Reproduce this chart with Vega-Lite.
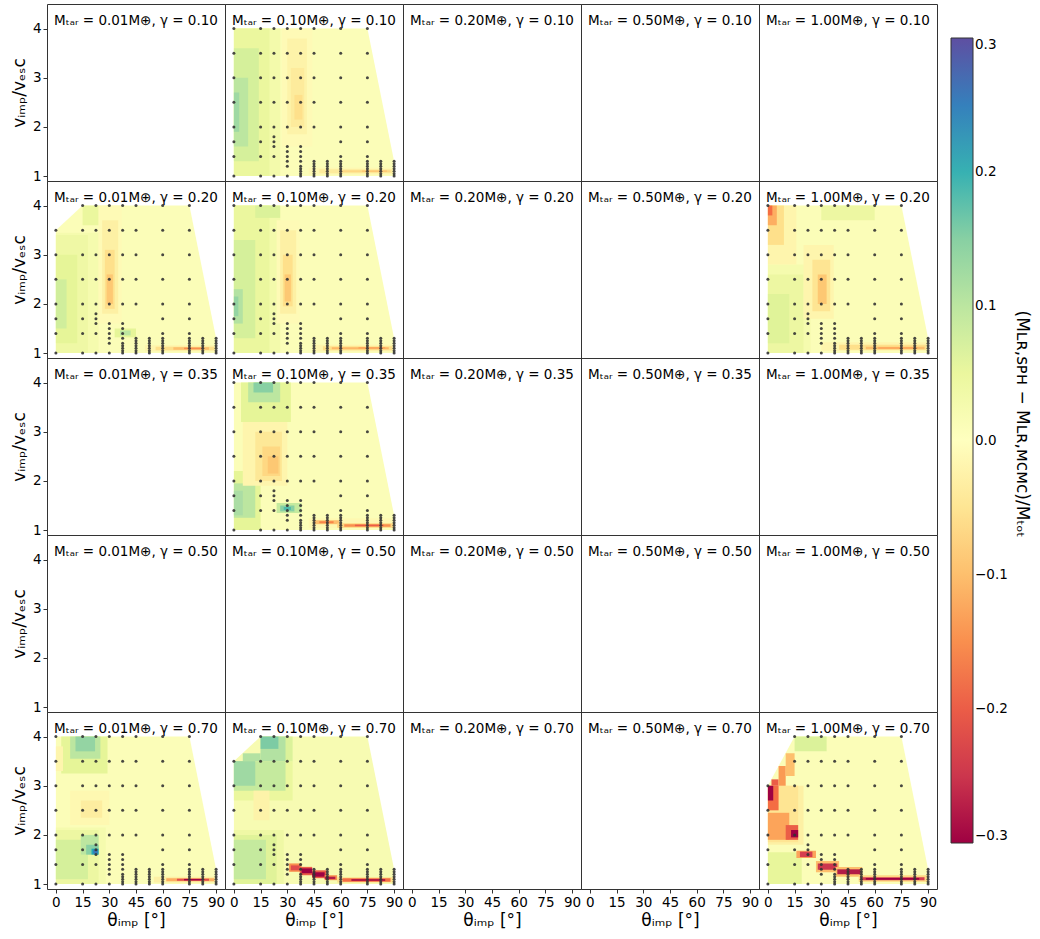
{
  "$schema": "https://vega.github.io/schema/vega-lite/v6.json",
  "background": "white",
  "padding": {"left": 10, "top": 3, "right": 5, "bottom": 5},
  "bounds": "flush",
  "data": {"values": [
    {"p":"0.10|0.01","k":"e","y":[1]},
    {"p":"0.10|0.20","k":"e","y":[1]},
    {"p":"0.10|0.50","k":"e","y":[1]},
    {"p":"0.10|1.00","k":"e","y":[1]},
    {"p":"0.20|0.20","k":"e","y":[1]},
    {"p":"0.20|0.50","k":"e","y":[1]},
    {"p":"0.35|0.01","k":"e","y":[1]},
    {"p":"0.35|0.20","k":"e","y":[1]},
    {"p":"0.35|0.50","k":"e","y":[1]},
    {"p":"0.35|1.00","k":"e","y":[1]},
    {"p":"0.50|0.01","k":"e","y":[1]},
    {"p":"0.50|0.10","k":"e","y":[1]},
    {"p":"0.50|0.20","k":"e","y":[1]},
    {"p":"0.50|0.50","k":"e","y":[1]},
    {"p":"0.50|1.00","k":"e","y":[1]},
    {"p":"0.70|0.20","k":"e","y":[1]},
    {"p":"0.70|0.50","k":"e","y":[1]},

    {"p":"0.10|0.10","k":"h","x":0,"y":[1],"y2":4,"v":0.01},
    {"p":"0.10|0.10","k":"h","x":75,"y":[1],"y2":4,"v":0.01},
    {"p":"0.10|0.10","k":"h","x":90,"y":[1],"y2":1.3,"v":0.01},
    {"p":"0.10|0.10","k":"c","x":0,"x2":26,"y":[1],"y2":4,"v":0.03},
    {"p":"0.10|0.10","k":"c","x":0,"x2":20,"y":[1],"y2":4,"v":0.05},
    {"p":"0.10|0.10","k":"c","x":0,"x2":14,"y":[1.3],"y2":3.6,"v":0.075},
    {"p":"0.10|0.10","k":"c","x":0,"x2":8,"y":[1.6],"y2":3,"v":0.1},
    {"p":"0.10|0.10","k":"c","x":0,"x2":3,"y":[1.9],"y2":2.7,"v":0.13},
    {"p":"0.10|0.10","k":"c","x":27,"x2":44,"y":[1.6],"y2":4,"v":-0.01},
    {"p":"0.10|0.10","k":"c","x":30,"x2":41,"y":[1.85],"y2":3.8,"v":-0.025},
    {"p":"0.10|0.10","k":"c","x":32,"x2":39.5,"y":[2],"y2":3.2,"v":-0.04},
    {"p":"0.10|0.10","k":"c","x":34,"x2":38.5,"y":[2.15],"y2":2.65,"v":-0.06},
    {"p":"0.10|0.10","k":"c","x":42,"x2":90,"y":[1.03],"y2":1.17,"v":-0.015},
    {"p":"0.10|0.10","k":"c","x":48,"x2":89,"y":[1.06],"y2":1.14,"v":-0.04},
    {"p":"0.10|0.10","k":"c","x":60,"x2":88,"y":[1.08],"y2":1.12,"v":-0.07},
    {"p":"0.10|0.10","k":"c","x":72,"x2":86,"y":[1.085],"y2":1.115,"v":-0.09},

    {"p":"0.20|0.01","k":"h","x":0,"y":[1],"y2":3.5,"v":0.01},
    {"p":"0.20|0.01","k":"h","x":15,"y":[1],"y2":4,"v":0.01},
    {"p":"0.20|0.01","k":"h","x":75,"y":[1],"y2":4,"v":0.01},
    {"p":"0.20|0.01","k":"h","x":90,"y":[1],"y2":1.3,"v":0.01},
    {"p":"0.20|0.01","k":"c","x":0,"x2":24,"y":[1],"y2":3.45,"v":0.025},
    {"p":"0.20|0.01","k":"c","x":0,"x2":18,"y":[1],"y2":3.4,"v":0.04},
    {"p":"0.20|0.01","k":"c","x":0,"x2":12,"y":[1.2],"y2":3,"v":0.06},
    {"p":"0.20|0.01","k":"c","x":0,"x2":6,"y":[1.5],"y2":2.5,"v":0.08},
    {"p":"0.20|0.01","k":"c","x":15,"x2":24,"y":[3.6],"y2":4,"v":0.05},
    {"p":"0.20|0.01","k":"c","x":24,"x2":37,"y":[1.6],"y2":4,"v":-0.01},
    {"p":"0.20|0.01","k":"c","x":26,"x2":35,"y":[1.8],"y2":3.7,"v":-0.03},
    {"p":"0.20|0.01","k":"c","x":27.5,"x2":33,"y":[1.9],"y2":3.1,"v":-0.06},
    {"p":"0.20|0.01","k":"c","x":28.5,"x2":32,"y":[2],"y2":2.6,"v":-0.09},
    {"p":"0.20|0.01","k":"c","x":33,"x2":45,"y":[1.32],"y2":1.5,"v":0.06},
    {"p":"0.20|0.01","k":"c","x":36,"x2":42,"y":[1.36],"y2":1.46,"v":0.1},
    {"p":"0.20|0.01","k":"c","x":50,"x2":90,"y":[1.03],"y2":1.16,"v":-0.02},
    {"p":"0.20|0.01","k":"c","x":56,"x2":89,"y":[1.06],"y2":1.13,"v":-0.06},
    {"p":"0.20|0.01","k":"c","x":66,"x2":86,"y":[1.07],"y2":1.12,"v":-0.1},
    {"p":"0.20|0.01","k":"c","x":72,"x2":82,"y":[1.08],"y2":1.11,"v":-0.15},

    {"p":"0.20|0.10","k":"h","x":0,"y":[1],"y2":4,"v":0.01},
    {"p":"0.20|0.10","k":"h","x":75,"y":[1],"y2":4,"v":0.01},
    {"p":"0.20|0.10","k":"h","x":90,"y":[1],"y2":1.3,"v":0.01},
    {"p":"0.20|0.10","k":"c","x":0,"x2":26,"y":[1],"y2":4,"v":0.03},
    {"p":"0.20|0.10","k":"c","x":0,"x2":20,"y":[1],"y2":4,"v":0.05},
    {"p":"0.20|0.10","k":"c","x":0,"x2":12,"y":[1.3],"y2":3.3,"v":0.075},
    {"p":"0.20|0.10","k":"c","x":0,"x2":5,"y":[1.6],"y2":2.3,"v":0.11},
    {"p":"0.20|0.10","k":"c","x":0,"x2":2.5,"y":[1.75],"y2":2.15,"v":0.14},
    {"p":"0.20|0.10","k":"c","x":12,"x2":26,"y":[3.75],"y2":4,"v":0.07},
    {"p":"0.20|0.10","k":"c","x":24,"x2":37,"y":[1.6],"y2":3.7,"v":-0.01},
    {"p":"0.20|0.10","k":"c","x":26,"x2":35,"y":[1.8],"y2":3.5,"v":-0.03},
    {"p":"0.20|0.10","k":"c","x":27.5,"x2":33,"y":[1.95],"y2":3,"v":-0.06},
    {"p":"0.20|0.10","k":"c","x":28.5,"x2":32,"y":[2.05],"y2":2.6,"v":-0.09},
    {"p":"0.20|0.10","k":"c","x":44,"x2":90,"y":[1.03],"y2":1.17,"v":-0.02},
    {"p":"0.20|0.10","k":"c","x":50,"x2":89,"y":[1.06],"y2":1.14,"v":-0.06},
    {"p":"0.20|0.10","k":"c","x":55,"x2":87,"y":[1.08],"y2":1.12,"v":-0.11},
    {"p":"0.20|0.10","k":"c","x":70,"x2":85,"y":[1.09],"y2":1.12,"v":-0.13},

    {"p":"0.20|1.00","k":"h","x":0,"y":[1],"y2":4,"v":0.01},
    {"p":"0.20|1.00","k":"h","x":75,"y":[1],"y2":4,"v":0.01},
    {"p":"0.20|1.00","k":"h","x":90,"y":[1],"y2":1.3,"v":0.01},
    {"p":"0.20|1.00","k":"c","x":0,"x2":24,"y":[1],"y2":2.8,"v":0.025},
    {"p":"0.20|1.00","k":"c","x":0,"x2":20,"y":[1],"y2":2.6,"v":0.045},
    {"p":"0.20|1.00","k":"c","x":0,"x2":12,"y":[1.2],"y2":2.2,"v":0.065},
    {"p":"0.20|1.00","k":"c","x":30,"x2":60,"y":[3.7],"y2":4,"v":0.045},
    {"p":"0.20|1.00","k":"c","x":0,"x2":16,"y":[2.8],"y2":4,"v":-0.02},
    {"p":"0.20|1.00","k":"c","x":0,"x2":9,"y":[3.2],"y2":4,"v":-0.06},
    {"p":"0.20|1.00","k":"c","x":0,"x2":5,"y":[3.6],"y2":4,"v":-0.12},
    {"p":"0.20|1.00","k":"c","x":0,"x2":2.5,"y":[3.8],"y2":4,"v":-0.18},
    {"p":"0.20|1.00","k":"c","x":20,"x2":37,"y":[1.7],"y2":3.2,"v":-0.02},
    {"p":"0.20|1.00","k":"c","x":25,"x2":35,"y":[1.85],"y2":2.9,"v":-0.05},
    {"p":"0.20|1.00","k":"c","x":28,"x2":33,"y":[2],"y2":2.6,"v":-0.09},
    {"p":"0.20|1.00","k":"c","x":30,"x2":90,"y":[1.05],"y2":1.22,"v":-0.02},
    {"p":"0.20|1.00","k":"c","x":40,"x2":89,"y":[1.07],"y2":1.17,"v":-0.06},
    {"p":"0.20|1.00","k":"c","x":55,"x2":88,"y":[1.08],"y2":1.13,"v":-0.1},
    {"p":"0.20|1.00","k":"c","x":62,"x2":84,"y":[1.09],"y2":1.12,"v":-0.13},

    {"p":"0.35|0.10","k":"h","x":0,"y":[1],"y2":4,"v":0.01},
    {"p":"0.35|0.10","k":"h","x":75,"y":[1],"y2":4,"v":0.01},
    {"p":"0.35|0.10","k":"h","x":90,"y":[1],"y2":1.3,"v":0.01},
    {"p":"0.35|0.10","k":"c","x":4,"x2":32,"y":[3.2],"y2":4,"v":0.06},
    {"p":"0.35|0.10","k":"c","x":8,"x2":26,"y":[3.6],"y2":4,"v":0.1},
    {"p":"0.35|0.10","k":"c","x":11,"x2":22,"y":[3.8],"y2":4,"v":0.15},
    {"p":"0.35|0.10","k":"c","x":0,"x2":15,"y":[1],"y2":2.2,"v":0.06},
    {"p":"0.35|0.10","k":"c","x":0,"x2":12,"y":[1.25],"y2":1.95,"v":0.1},
    {"p":"0.35|0.10","k":"c","x":0,"x2":5,"y":[1.3],"y2":1.8,"v":0.12},
    {"p":"0.35|0.10","k":"c","x":5,"x2":30,"y":[1.9],"y2":3.2,"v":-0.02},
    {"p":"0.35|0.10","k":"c","x":12,"x2":27,"y":[2],"y2":3,"v":-0.045},
    {"p":"0.35|0.10","k":"c","x":16,"x2":26,"y":[2.1],"y2":2.7,"v":-0.07},
    {"p":"0.35|0.10","k":"c","x":19,"x2":25,"y":[2.15],"y2":2.5,"v":-0.09},
    {"p":"0.35|0.10","k":"c","x":24,"x2":38,"y":[1.35],"y2":1.55,"v":0.09},
    {"p":"0.35|0.10","k":"c","x":26,"x2":34,"y":[1.38],"y2":1.5,"v":0.15},
    {"p":"0.35|0.10","k":"c","x":28,"x2":32,"y":[1.41],"y2":1.47,"v":0.19},
    {"p":"0.35|0.10","k":"c","x":42,"x2":90,"y":[1.04],"y2":1.24,"v":-0.015},
    {"p":"0.35|0.10","k":"c","x":45,"x2":59,"y":[1.12],"y2":1.2,"v":-0.1},
    {"p":"0.35|0.10","k":"c","x":48,"x2":56,"y":[1.14],"y2":1.18,"v":-0.16},
    {"p":"0.35|0.10","k":"c","x":58,"x2":90,"y":[1.05],"y2":1.14,"v":-0.07},
    {"p":"0.35|0.10","k":"c","x":62,"x2":88,"y":[1.07],"y2":1.12,"v":-0.15},
    {"p":"0.35|0.10","k":"c","x":68,"x2":84,"y":[1.08],"y2":1.11,"v":-0.2},

    {"p":"0.70|0.01","k":"h","x":0,"y":[1],"y2":4,"v":0.01},
    {"p":"0.70|0.01","k":"h","x":75,"y":[1],"y2":4,"v":0.01},
    {"p":"0.70|0.01","k":"h","x":90,"y":[1],"y2":1.3,"v":0.01},
    {"p":"0.70|0.01","k":"c","x":3,"x2":29,"y":[3.25],"y2":4,"v":0.06},
    {"p":"0.70|0.01","k":"c","x":8,"x2":25,"y":[3.55],"y2":4,"v":0.1},
    {"p":"0.70|0.01","k":"c","x":11,"x2":22,"y":[3.7],"y2":4,"v":0.14},
    {"p":"0.70|0.01","k":"c","x":0,"x2":4,"y":[3.3],"y2":3.8,"v":-0.02},
    {"p":"0.70|0.01","k":"c","x":8,"x2":30,"y":[2.2],"y2":2.9,"v":-0.015},
    {"p":"0.70|0.01","k":"c","x":14,"x2":26,"y":[2.35],"y2":2.7,"v":-0.035},
    {"p":"0.70|0.01","k":"c","x":0,"x2":28,"y":[1],"y2":2.15,"v":0.025},
    {"p":"0.70|0.01","k":"c","x":0,"x2":24,"y":[1],"y2":2.1,"v":0.045},
    {"p":"0.70|0.01","k":"c","x":0,"x2":18,"y":[1.1],"y2":1.9,"v":0.075},
    {"p":"0.70|0.01","k":"c","x":14,"x2":24,"y":[1.6],"y2":2,"v":0.1},
    {"p":"0.70|0.01","k":"c","x":17,"x2":24,"y":[1.6],"y2":1.8,"v":0.15},
    {"p":"0.70|0.01","k":"c","x":20,"x2":24,"y":[1.6],"y2":1.72,"v":0.21},
    {"p":"0.70|0.01","k":"c","x":21,"x2":23.5,"y":[1.62],"y2":1.7,"v":0.26},
    {"p":"0.70|0.01","k":"c","x":55,"x2":90,"y":[1.03],"y2":1.15,"v":-0.03},
    {"p":"0.70|0.01","k":"c","x":62,"x2":89,"y":[1.06],"y2":1.12,"v":-0.12},
    {"p":"0.70|0.01","k":"c","x":68,"x2":86,"y":[1.07],"y2":1.11,"v":-0.22},
    {"p":"0.70|0.01","k":"c","x":72,"x2":82,"y":[1.075],"y2":1.105,"v":-0.3},

    {"p":"0.70|0.10","k":"h","x":0,"y":[1],"y2":3.5,"v":0.02},
    {"p":"0.70|0.10","k":"h","x":15,"y":[1],"y2":4,"v":0.02},
    {"p":"0.70|0.10","k":"h","x":75,"y":[1],"y2":4,"v":0.02},
    {"p":"0.70|0.10","k":"h","x":90,"y":[1],"y2":1.3,"v":0.02},
    {"p":"0.70|0.10","k":"c","x":0,"x2":33,"y":[2.7],"y2":3.5,"v":0.05},
    {"p":"0.70|0.10","k":"c","x":15,"x2":33,"y":[3.5],"y2":4,"v":0.07},
    {"p":"0.70|0.10","k":"c","x":0,"x2":29,"y":[2.9],"y2":3.5,"v":0.09},
    {"p":"0.70|0.10","k":"c","x":5,"x2":15,"y":[3.5],"y2":3.66,"v":0.11},
    {"p":"0.70|0.10","k":"c","x":15,"x2":29,"y":[3.5],"y2":4,"v":0.11},
    {"p":"0.70|0.10","k":"c","x":15,"x2":25,"y":[3.75],"y2":4,"v":0.16},
    {"p":"0.70|0.10","k":"c","x":0,"x2":12,"y":[3],"y2":3.5,"v":0.13},
    {"p":"0.70|0.10","k":"c","x":11,"x2":20,"y":[2.3],"y2":2.9,"v":-0.025},
    {"p":"0.70|0.10","k":"c","x":0,"x2":28,"y":[1],"y2":2.1,"v":0.04},
    {"p":"0.70|0.10","k":"c","x":0,"x2":24,"y":[1],"y2":2,"v":0.065},
    {"p":"0.70|0.10","k":"c","x":0,"x2":18,"y":[1.1],"y2":1.9,"v":0.09},
    {"p":"0.70|0.10","k":"c","x":31,"x2":38,"y":[1.25],"y2":1.42,"v":-0.15},
    {"p":"0.70|0.10","k":"c","x":32,"x2":37,"y":[1.28],"y2":1.38,"v":-0.22},
    {"p":"0.70|0.10","k":"c","x":37,"x2":44,"y":[1.18],"y2":1.35,"v":-0.2},
    {"p":"0.70|0.10","k":"c","x":38,"x2":44,"y":[1.22],"y2":1.32,"v":-0.3},
    {"p":"0.70|0.10","k":"c","x":44,"x2":52,"y":[1.12],"y2":1.28,"v":-0.2},
    {"p":"0.70|0.10","k":"c","x":44,"x2":51,"y":[1.15],"y2":1.24,"v":-0.3},
    {"p":"0.70|0.10","k":"c","x":51,"x2":58,"y":[1.08],"y2":1.18,"v":-0.15},
    {"p":"0.70|0.10","k":"c","x":51,"x2":57,"y":[1.1],"y2":1.15,"v":-0.28},
    {"p":"0.70|0.10","k":"c","x":58,"x2":90,"y":[1.03],"y2":1.14,"v":-0.06},
    {"p":"0.70|0.10","k":"c","x":61,"x2":88,"y":[1.05],"y2":1.12,"v":-0.18},
    {"p":"0.70|0.10","k":"c","x":66,"x2":85,"y":[1.07],"y2":1.1,"v":-0.3},

    {"p":"0.70|1.00","k":"h","x":0,"y":[1],"y2":3,"v":0.01},
    {"p":"0.70|1.00","k":"h","x":15,"y":[1],"y2":4,"v":0.01},
    {"p":"0.70|1.00","k":"h","x":75,"y":[1],"y2":4,"v":0.01},
    {"p":"0.70|1.00","k":"h","x":90,"y":[1],"y2":1.3,"v":0.01},
    {"p":"0.70|1.00","k":"c","x":0,"x2":19,"y":[1],"y2":1.65,"v":0.055},
    {"p":"0.70|1.00","k":"c","x":15,"x2":33,"y":[3.7],"y2":4,"v":0.07},
    {"p":"0.70|1.00","k":"c","x":0,"x2":20,"y":[1.8],"y2":3,"v":-0.03},
    {"p":"0.70|1.00","k":"c","x":0,"x2":17,"y":[1.85],"y2":3,"v":-0.05},
    {"p":"0.70|1.00","k":"c","x":0,"x2":6,"y":[2.5],"y2":3,"v":-0.18},
    {"p":"0.70|1.00","k":"c","x":0,"x2":3,"y":[2.7],"y2":3,"v":-0.3},
    {"p":"0.70|1.00","k":"c","x":2,"x2":6,"y":[3],"y2":3.13,"v":-0.2},
    {"p":"0.70|1.00","k":"c","x":6,"x2":10,"y":[3],"y2":3.4,"v":-0.14},
    {"p":"0.70|1.00","k":"c","x":10,"x2":15,"y":[3.2],"y2":3.66,"v":-0.1},
    {"p":"0.70|1.00","k":"c","x":0,"x2":12,"y":[1.9],"y2":2.45,"v":-0.13},
    {"p":"0.70|1.00","k":"c","x":10,"x2":17,"y":[1.9],"y2":2.2,"v":-0.2},
    {"p":"0.70|1.00","k":"c","x":13,"x2":17,"y":[1.95],"y2":2.1,"v":-0.3},
    {"p":"0.70|1.00","k":"c","x":16,"x2":27,"y":[1.53],"y2":1.68,"v":-0.13},
    {"p":"0.70|1.00","k":"c","x":18,"x2":25,"y":[1.55],"y2":1.66,"v":-0.24},
    {"p":"0.70|1.00","k":"c","x":27,"x2":40,"y":[1.24],"y2":1.47,"v":-0.1},
    {"p":"0.70|1.00","k":"c","x":28,"x2":39,"y":[1.29],"y2":1.42,"v":-0.25},
    {"p":"0.70|1.00","k":"c","x":38,"x2":53,"y":[1.15],"y2":1.35,"v":-0.1},
    {"p":"0.70|1.00","k":"c","x":39,"x2":52,"y":[1.2],"y2":1.3,"v":-0.28},
    {"p":"0.70|1.00","k":"c","x":51,"x2":90,"y":[1.05],"y2":1.18,"v":-0.07},
    {"p":"0.70|1.00","k":"c","x":52,"x2":88,"y":[1.08],"y2":1.14,"v":-0.24},
    {"p":"0.70|1.00","k":"c","x":55,"x2":85,"y":[1.09],"y2":1.125,"v":-0.3},

    {"p":"0.10|0.10","k":"d","x":0,"y":[1,1.4,1.7,2,2.5,3,3.5,4]},
    {"p":"0.10|0.10","k":"d","x":15,"y":[1,1.4,1.7,2,2.5,3,3.5,4]},
    {"p":"0.10|0.10","k":"d","x":22.5,"y":[1,1.4,1.6,1.7,1.8,2,2.5,3,3.5,4]},
    {"p":"0.10|0.10","k":"d","x":30,"y":[1,1.2,1.3,1.4,1.5,1.6,2,2.5,3,3.5,4]},
    {"p":"0.10|0.10","k":"d","x":37.5,"y":[1,1.05,1.1,1.15,1.2,1.3,1.4,1.5,1.6,2,2.5,3,3.5,4]},
    {"p":"0.10|0.10","k":"d","x":45,"y":[1,1.05,1.1,1.15,1.2,1.25,1.3,2,2.5,3,3.5,4]},
    {"p":"0.10|0.10","k":"d","x":52.5,"y":[1,1.05,1.1,1.15,1.2,1.25,1.3]},
    {"p":"0.10|0.10","k":"d","x":60,"y":[1,1.05,1.1,1.15,1.2,1.25,1.3,1.4,1.7,2,2.5,3,3.5,4]},
    {"p":"0.10|0.10","k":"d","x":75,"y":[1,1.05,1.1,1.15,1.2,1.25,1.3,1.4,1.7,2,2.5,3,3.5,4]},
    {"p":"0.10|0.10","k":"d","x":82.5,"y":[1,1.05,1.1,1.15,1.2,1.25,1.3]},
    {"p":"0.10|0.10","k":"d","x":90,"y":[1,1.05,1.1,1.15,1.2,1.25,1.3]},

    {"p":"0.20|0.01","k":"d","x":0,"y":[1,1.4,1.7,2,2.5,3,3.5]},
    {"p":"0.20|0.01","k":"d","x":15,"y":[1,1.4,1.7,2,2.5,3,3.5,4]},
    {"p":"0.20|0.01","k":"d","x":22.5,"y":[1,1.4,1.6,1.7,1.8,2,2.5,3,3.5,4]},
    {"p":"0.20|0.01","k":"d","x":30,"y":[1,1.2,1.3,1.4,1.5,1.6,2,2.5,3,3.5,4]},
    {"p":"0.20|0.01","k":"d","x":37.5,"y":[1,1.05,1.1,1.15,1.2,1.3,1.4,1.5,1.6,2,2.5,3,3.5,4]},
    {"p":"0.20|0.01","k":"d","x":45,"y":[1,1.05,1.1,1.15,1.2,1.25,1.3,2,2.5,3,3.5,4]},
    {"p":"0.20|0.01","k":"d","x":52.5,"y":[1,1.05,1.1,1.15,1.2,1.25,1.3]},
    {"p":"0.20|0.01","k":"d","x":60,"y":[1,1.05,1.1,1.15,1.2,1.25,1.3,1.4,1.7,2,2.5,3,3.5,4]},
    {"p":"0.20|0.01","k":"d","x":75,"y":[1,1.05,1.1,1.15,1.2,1.25,1.3,1.4,1.7,2,2.5,3,3.5,4]},
    {"p":"0.20|0.01","k":"d","x":82.5,"y":[1,1.05,1.1,1.15,1.2,1.25,1.3]},
    {"p":"0.20|0.01","k":"d","x":90,"y":[1,1.05,1.1,1.15,1.2,1.25,1.3]},

    {"p":"0.20|0.10","k":"d","x":0,"y":[1,1.4,1.7,2,2.5,3,3.5,4]},
    {"p":"0.20|0.10","k":"d","x":15,"y":[1,1.4,1.7,2,2.5,3,3.5,4]},
    {"p":"0.20|0.10","k":"d","x":22.5,"y":[1,1.4,1.6,1.7,1.8,2,2.5,3,3.5,4]},
    {"p":"0.20|0.10","k":"d","x":30,"y":[1,1.2,1.3,1.4,1.5,1.6,2,2.5,3,3.5,4]},
    {"p":"0.20|0.10","k":"d","x":37.5,"y":[1,1.05,1.1,1.15,1.2,1.3,1.4,1.5,1.6,2,2.5,3,3.5,4]},
    {"p":"0.20|0.10","k":"d","x":45,"y":[1,1.05,1.1,1.15,1.2,1.25,1.3,2,2.5,3,3.5,4]},
    {"p":"0.20|0.10","k":"d","x":52.5,"y":[1,1.05,1.1,1.15,1.2,1.25,1.3]},
    {"p":"0.20|0.10","k":"d","x":60,"y":[1,1.05,1.1,1.15,1.2,1.25,1.3,1.4,1.7,2,2.5,3,3.5,4]},
    {"p":"0.20|0.10","k":"d","x":75,"y":[1,1.05,1.1,1.15,1.2,1.25,1.3,1.4,1.7,2,2.5,3,3.5,4]},
    {"p":"0.20|0.10","k":"d","x":82.5,"y":[1,1.05,1.1,1.15,1.2,1.25,1.3]},
    {"p":"0.20|0.10","k":"d","x":90,"y":[1,1.05,1.1,1.15,1.2,1.25,1.3]},

    {"p":"0.20|1.00","k":"d","x":0,"y":[1,1.4,1.7,2,2.5,3,3.5,4]},
    {"p":"0.20|1.00","k":"d","x":15,"y":[1,1.4,1.7,2,2.5,3,3.5,4]},
    {"p":"0.20|1.00","k":"d","x":22.5,"y":[1,1.4,1.6,1.7,1.8,2,2.5,3,3.5,4]},
    {"p":"0.20|1.00","k":"d","x":30,"y":[1,1.2,1.3,1.4,1.5,1.6,2,2.5,3,3.5,4]},
    {"p":"0.20|1.00","k":"d","x":37.5,"y":[1,1.05,1.1,1.15,1.2,1.3,1.4,1.5,1.6,2,2.5,3,3.5,4]},
    {"p":"0.20|1.00","k":"d","x":45,"y":[1,1.05,1.1,1.15,1.2,1.25,1.3,2,2.5,3,3.5,4]},
    {"p":"0.20|1.00","k":"d","x":52.5,"y":[1,1.05,1.1,1.15,1.2,1.25,1.3]},
    {"p":"0.20|1.00","k":"d","x":60,"y":[1,1.05,1.1,1.15,1.2,1.25,1.3,1.4,1.7,2,2.5,3,3.5,4]},
    {"p":"0.20|1.00","k":"d","x":75,"y":[1,1.05,1.1,1.15,1.2,1.25,1.3,1.4,1.7,2,2.5,3,3.5,4]},
    {"p":"0.20|1.00","k":"d","x":82.5,"y":[1,1.05,1.1,1.15,1.2,1.25,1.3]},
    {"p":"0.20|1.00","k":"d","x":90,"y":[1,1.05,1.1,1.15,1.2,1.25,1.3]},

    {"p":"0.35|0.10","k":"d","x":0,"y":[1,1.4,1.7,2,2.5,3,3.5,4]},
    {"p":"0.35|0.10","k":"d","x":15,"y":[1,1.4,1.7,2,2.5,3,3.5,4]},
    {"p":"0.35|0.10","k":"d","x":22.5,"y":[1,1.4,1.6,1.7,1.8,2,2.5,3,3.5,4]},
    {"p":"0.35|0.10","k":"d","x":30,"y":[1,1.2,1.3,1.4,1.5,1.6,2,2.5,3,3.5,4]},
    {"p":"0.35|0.10","k":"d","x":37.5,"y":[1,1.05,1.1,1.15,1.2,1.3,1.4,1.5,1.6,2,2.5,3,3.5,4]},
    {"p":"0.35|0.10","k":"d","x":45,"y":[1,1.05,1.1,1.15,1.2,1.25,1.3,2,2.5,3,3.5,4]},
    {"p":"0.35|0.10","k":"d","x":52.5,"y":[1,1.05,1.1,1.15,1.2,1.25,1.3]},
    {"p":"0.35|0.10","k":"d","x":60,"y":[1,1.05,1.1,1.15,1.2,1.25,1.3,1.4,1.7,2,2.5,3,3.5,4]},
    {"p":"0.35|0.10","k":"d","x":75,"y":[1,1.05,1.1,1.15,1.2,1.25,1.3,1.4,1.7,2,2.5,3,3.5,4]},
    {"p":"0.35|0.10","k":"d","x":82.5,"y":[1,1.05,1.1,1.15,1.2,1.25,1.3]},
    {"p":"0.35|0.10","k":"d","x":90,"y":[1,1.05,1.1,1.15,1.2,1.25,1.3]},

    {"p":"0.70|0.01","k":"d","x":0,"y":[1,1.4,1.7,2,2.5,3,3.5,4]},
    {"p":"0.70|0.01","k":"d","x":15,"y":[1,1.4,1.7,2,2.5,3,3.5,4]},
    {"p":"0.70|0.01","k":"d","x":22.5,"y":[1,1.4,1.6,1.7,1.8,2,2.5,3,3.5,4]},
    {"p":"0.70|0.01","k":"d","x":30,"y":[1,1.2,1.3,1.4,1.5,1.6,2,2.5,3,3.5,4]},
    {"p":"0.70|0.01","k":"d","x":37.5,"y":[1,1.05,1.1,1.15,1.2,1.3,1.4,1.5,1.6,2,2.5,3,3.5,4]},
    {"p":"0.70|0.01","k":"d","x":45,"y":[1,1.05,1.1,1.15,1.2,1.25,1.3,2,2.5,3,3.5,4]},
    {"p":"0.70|0.01","k":"d","x":52.5,"y":[1,1.05,1.1,1.15,1.2,1.25,1.3]},
    {"p":"0.70|0.01","k":"d","x":60,"y":[1,1.05,1.1,1.15,1.2,1.25,1.3,1.4,1.7,2,2.5,3,3.5,4]},
    {"p":"0.70|0.01","k":"d","x":75,"y":[1,1.05,1.1,1.15,1.2,1.25,1.3,1.4,1.7,2,2.5,3,3.5,4]},
    {"p":"0.70|0.01","k":"d","x":82.5,"y":[1,1.05,1.1,1.15,1.2,1.25,1.3]},
    {"p":"0.70|0.01","k":"d","x":90,"y":[1,1.05,1.1,1.15,1.2,1.25,1.3]},

    {"p":"0.70|0.10","k":"d","x":0,"y":[1,1.4,1.7,2,2.5,3,3.5]},
    {"p":"0.70|0.10","k":"d","x":15,"y":[1,1.4,1.7,2,2.5,3,3.5,4]},
    {"p":"0.70|0.10","k":"d","x":22.5,"y":[1,1.4,1.6,1.7,1.8,2,2.5,3,3.5,4]},
    {"p":"0.70|0.10","k":"d","x":30,"y":[1,1.2,1.3,1.4,1.5,1.6,2,2.5,3,3.5,4]},
    {"p":"0.70|0.10","k":"d","x":37.5,"y":[1,1.05,1.1,1.15,1.2,1.3,1.4,1.5,1.6,2,2.5,3,3.5,4]},
    {"p":"0.70|0.10","k":"d","x":45,"y":[1,1.05,1.1,1.15,1.2,1.25,1.3,2,2.5,3,3.5,4]},
    {"p":"0.70|0.10","k":"d","x":52.5,"y":[1,1.05,1.1,1.15,1.2,1.25,1.3]},
    {"p":"0.70|0.10","k":"d","x":60,"y":[1,1.05,1.1,1.15,1.2,1.25,1.3,1.4,1.7,2,2.5,3,3.5,4]},
    {"p":"0.70|0.10","k":"d","x":75,"y":[1,1.05,1.1,1.15,1.2,1.25,1.3,1.4,1.7,2,2.5,3,3.5,4]},
    {"p":"0.70|0.10","k":"d","x":82.5,"y":[1,1.05,1.1,1.15,1.2,1.25,1.3]},
    {"p":"0.70|0.10","k":"d","x":90,"y":[1,1.05,1.1,1.15,1.2,1.25,1.3]},

    {"p":"0.70|1.00","k":"d","x":0,"y":[1,1.4,1.7,2,2.5,3]},
    {"p":"0.70|1.00","k":"d","x":15,"y":[1,1.4,1.7,2,2.5,3,3.5,4]},
    {"p":"0.70|1.00","k":"d","x":22.5,"y":[1,1.4,1.6,1.7,1.8,2,2.5,3,3.5,4]},
    {"p":"0.70|1.00","k":"d","x":30,"y":[1,1.2,1.3,1.4,1.5,1.6,2,2.5,3,3.5,4]},
    {"p":"0.70|1.00","k":"d","x":37.5,"y":[1,1.05,1.1,1.15,1.2,1.3,1.4,1.5,1.6,2,2.5,3,3.5,4]},
    {"p":"0.70|1.00","k":"d","x":45,"y":[1,1.05,1.1,1.15,1.2,1.25,1.3,2,2.5,3,3.5,4]},
    {"p":"0.70|1.00","k":"d","x":52.5,"y":[1,1.05,1.1,1.15,1.2,1.25,1.3]},
    {"p":"0.70|1.00","k":"d","x":60,"y":[1,1.05,1.1,1.15,1.2,1.25,1.3,1.4,1.7,2,2.5,3,3.5,4]},
    {"p":"0.70|1.00","k":"d","x":75,"y":[1,1.05,1.1,1.15,1.2,1.25,1.3,1.4,1.7,2,2.5,3,3.5,4]},
    {"p":"0.70|1.00","k":"d","x":82.5,"y":[1,1.05,1.1,1.15,1.2,1.25,1.3]},
    {"p":"0.70|1.00","k":"d","x":90,"y":[1,1.05,1.1,1.15,1.2,1.25,1.3]}
  ]},
  "transform": [{"flatten": ["y"]}],
  "facet": {
    "field": "p",
    "type": "nominal",
    "title": null,
    "header": {
      "labelExpr": "'Mₜₐᵣ = ' + split(datum.value, '|')[1] + 'M⊕, γ = ' + split(datum.value, '|')[0]",
      "labelFont": "DejaVu Sans",
      "labelFontSize": 13.5,
      "labelColor": "#000",
      "labelPadding": -23
    }
  },
  "columns": 5,
  "spacing": 0,
  "spec": {
    "width": 178,
    "height": 177,
    "layer": [
      {
        "transform": [{"filter": "datum.k == 'h'"}],
        "mark": {"type": "area"},
        "encoding": {
          "x": {"field": "x", "type": "quantitative", "scale": {"domain": [-5, 95], "nice": false, "zero": false},
                "axis": {"values": [0, 15, 30, 45, 60, 75, 90], "tickCount": 7, "title": "θᵢₘₚ [°]", "labelOverlap": false, "labelFlush": false, "labelBound": false}},
          "y": {"field": "y", "type": "quantitative", "scale": {"domain": [0.9, 4.5], "nice": false, "zero": false},
                "axis": {"values": [1, 2, 3, 4], "tickCount": 4, "title": "vᵢₘₚ/vₑₛc", "labelOverlap": false}},
          "y2": {"field": "y2"},
          "color": {"field": "v", "type": "quantitative",
            "scale": {"domain": [-0.3, -0.24, -0.18, -0.12, -0.06, 0, 0.06, 0.12, 0.18, 0.24, 0.3],
                      "range": ["#9e0142", "#d53e4f", "#f46d43", "#fdae61", "#fee08b", "#ffffbf", "#e6f598", "#abdda4", "#66c2a5", "#3288bd", "#5e4fa2"]},
            "legend": {"title": "(Mʟʀ,sᴘʜ − Mʟʀ,ᴍᴄᴍᴄ)/Mₜₒₜ", "values": [-0.3, -0.2, -0.1, 0, 0.1, 0.2, 0.3], "format": ".1f",
                       "labelExpr": "replace(datum.label, '-', '−')", "titleAngle": -90, "titleLimit": 1000}}
        }
      },
      {
        "transform": [{"filter": "datum.k == 'c'"}],
        "mark": {"type": "rect"},
        "encoding": {
          "x": {"field": "x", "type": "quantitative"},
          "x2": {"field": "x2"},
          "y": {"field": "y", "type": "quantitative"},
          "y2": {"field": "y2"},
          "color": {"field": "v", "type": "quantitative"}
        }
      },
      {
        "transform": [{"filter": "datum.k == 'd'"}],
        "mark": {"type": "point", "filled": true, "size": 9, "color": "#333", "opacity": 0.9},
        "encoding": {
          "x": {"field": "x", "type": "quantitative"},
          "y": {"field": "y", "type": "quantitative"}
        }
      }
    ]
  },
  "config": {
    "font": "DejaVu Sans",
    "view": {"stroke": "#333", "strokeWidth": 1},
    "axis": {"grid": false, "domain": false, "tickColor": "#333", "tickSize": 4, "labelFontSize": 13.5, "labelColor": "#000",
             "labelOverlap": false, "labelFlush": false,
             "labelFont": "DejaVu Sans", "titleFont": "DejaVu Sans", "titleFontSize": 17, "titleFontWeight": "normal", "titleColor": "#000", "labelPadding": 2},
    "legend": {"orient": "right", "offset": -21, "padding": 34, "gradientLength": 805, "gradientThickness": 22, "labelFontSize": 13.5, "labelColor": "#000",
               "titleFontSize": 17, "titleFontWeight": "normal", "titleColor": "#000", "titleOrient": "right", "titleAnchor": "middle",
               "gradientStrokeColor": "#333", "gradientStrokeWidth": 1, "labelFont": "DejaVu Sans", "titleFont": "DejaVu Sans"}
  }
}
